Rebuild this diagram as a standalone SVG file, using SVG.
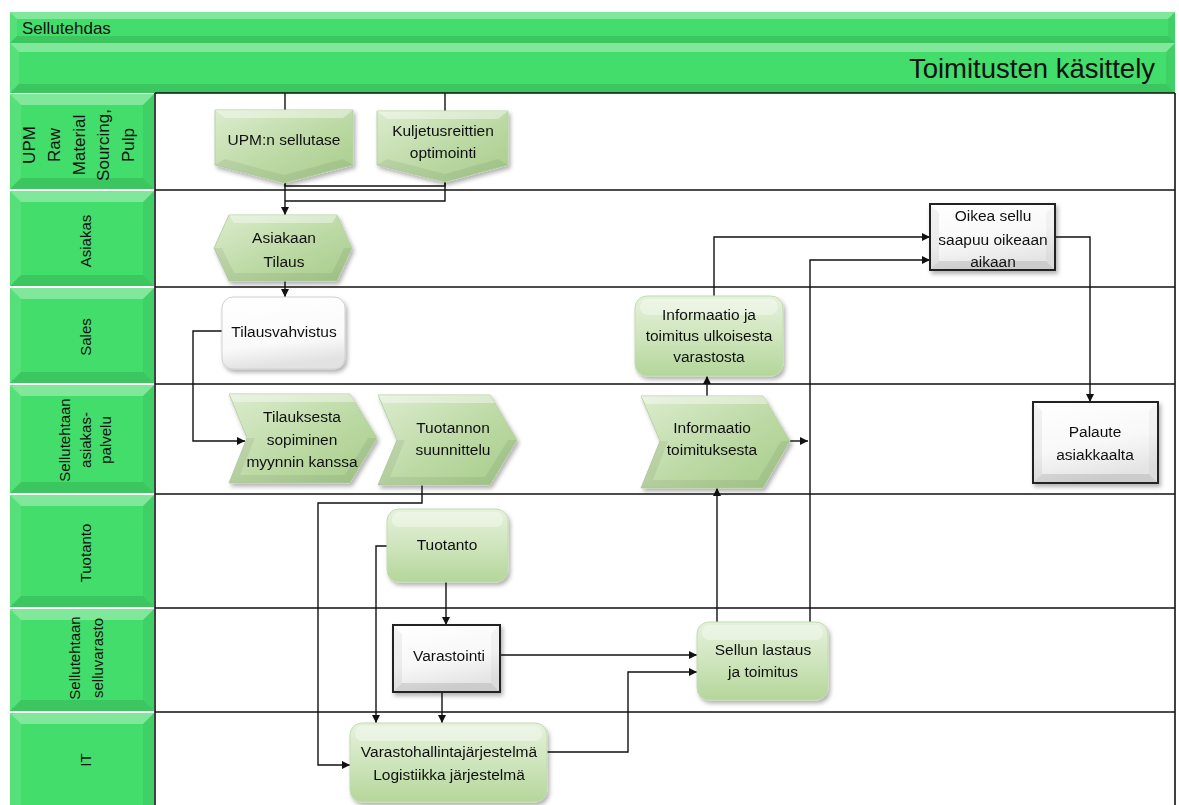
<svg xmlns="http://www.w3.org/2000/svg" width="1179" height="805" viewBox="0 0 1179 805">
<style>
.t{font-family:"Liberation Sans",Arial,sans-serif;font-size:15.5px;fill:#111;text-anchor:middle}
.lb{font-family:"Liberation Sans",Arial,sans-serif;font-size:15px;fill:#111;text-anchor:middle}
.cell{fill:#43dd6b}
.bt{fill:#ffffff;fill-opacity:.33}
.bl{fill:#ffffff;fill-opacity:.1}
.br{fill:#000000;fill-opacity:.05}
.bb{fill:#000000;fill-opacity:.1}
.grid{stroke:#111;stroke-width:1.6;fill:none}
.conn{stroke:#111;stroke-width:1.4;fill:none}
.ca{stroke:#111;stroke-width:1.4;fill:none;marker-end:url(#ah)}
.gn{fill:url(#gGreen);stroke:#b9d2a6;stroke-width:1}
.gr{fill:url(#gGreenR);stroke:#c2dbb0;stroke-width:1}
.wb{fill:url(#gWhite);stroke:#222;stroke-width:2}
.wl{fill:#000;fill-opacity:.05}
.wbo{fill:#000;fill-opacity:.1}
.wr{fill:#000;fill-opacity:.03}
</style>
<defs>
<marker id="ah" viewBox="0 0 10 10" refX="10" refY="5" markerWidth="9" markerHeight="8" markerUnits="userSpaceOnUse" orient="auto"><path d="M0,0 L10,5 L0,10 z" fill="#111"/></marker>
<linearGradient id="gGreen" x1="0" y1="0" x2="1" y2="1"><stop offset="0" stop-color="#dcecce"/><stop offset="0.55" stop-color="#bcd9a4"/><stop offset="1" stop-color="#a6cc8a"/></linearGradient>
<linearGradient id="gGreenR" x1="0" y1="0" x2="0" y2="1"><stop offset="0" stop-color="#e6f2dc"/><stop offset="0.5" stop-color="#cfe5bd"/><stop offset="1" stop-color="#b4d69a"/></linearGradient>
<linearGradient id="gWhite" x1="0" y1="0" x2="0.3" y2="1"><stop offset="0" stop-color="#ffffff"/><stop offset="0.6" stop-color="#f8f8f8"/><stop offset="1" stop-color="#e4e4e4"/></linearGradient>
<linearGradient id="gWhiteR" x1="0" y1="0" x2="0.2" y2="1"><stop offset="0" stop-color="#ffffff"/><stop offset="0.7" stop-color="#fafafa"/><stop offset="1" stop-color="#e2e2e2"/></linearGradient>
<filter id="sh" x="-10%" y="-10%" width="125%" height="130%"><feDropShadow dx="2" dy="3" stdDeviation="2" flood-color="#000" flood-opacity="0.3"/></filter>
</defs>
<rect x="0" y="0" width="1179" height="805" fill="#ffffff"/>

<g id="header">
<rect x="10" y="12" width="1165" height="31" class="cell"/>
<polygon class="bt" points="10,12 1175,12 1168,19 17,19"/>
<polygon class="bl" points="10,12 17,19 17,36 10,43"/>
<polygon class="br" points="1175,12 1175,43 1168,36 1168,19"/>
<polygon class="bb" points="10,43 17,36 1168,36 1175,43"/>
<rect x="10" y="43" width="1165" height="50" class="cell"/>
<polygon class="bt" points="10,43 1175,43 1166,52 19,52"/>
<polygon class="bl" points="10,43 19,52 19,84 10,93"/>
<polygon class="br" points="1175,43 1175,93 1166,84 1166,52"/>
<polygon class="bb" points="10,93 19,84 1166,84 1175,93"/>
<text x="22" y="34" font-family="Liberation Sans, Arial, sans-serif" font-size="17" fill="#111">Sellutehdas</text>
<text x="1155" y="78" font-family="Liberation Sans, Arial, sans-serif" font-size="27.5" fill="#111" text-anchor="end">Toimitusten käsittely</text>
</g>

<g id="lane-labels">
<rect x="10" y="94" width="144" height="95" class="cell"/>
<polygon class="bt" points="10,94 154,94 143,105 21,105"/>
<polygon class="bl" points="10,94 21,105 21,178 10,189"/>
<polygon class="br" points="154,94 154,189 143,178 143,105"/>
<polygon class="bb" points="10,189 21,178 143,178 154,189"/>
<rect x="10" y="191" width="144" height="95" class="cell"/>
<polygon class="bt" points="10,191 154,191 143,202 21,202"/>
<polygon class="bl" points="10,191 21,202 21,275 10,286"/>
<polygon class="br" points="154,191 154,286 143,275 143,202"/>
<polygon class="bb" points="10,286 21,275 143,275 154,286"/>
<rect x="10" y="288" width="144" height="95" class="cell"/>
<polygon class="bt" points="10,288 154,288 143,299 21,299"/>
<polygon class="bl" points="10,288 21,299 21,372 10,383"/>
<polygon class="br" points="154,288 154,383 143,372 143,299"/>
<polygon class="bb" points="10,383 21,372 143,372 154,383"/>
<rect x="10" y="385" width="144" height="108" class="cell"/>
<polygon class="bt" points="10,385 154,385 143,396 21,396"/>
<polygon class="bl" points="10,385 21,396 21,482 10,493"/>
<polygon class="br" points="154,385 154,493 143,482 143,396"/>
<polygon class="bb" points="10,493 21,482 143,482 154,493"/>
<rect x="10" y="495" width="144" height="112" class="cell"/>
<polygon class="bt" points="10,495 154,495 143,506 21,506"/>
<polygon class="bl" points="10,495 21,506 21,596 10,607"/>
<polygon class="br" points="154,495 154,607 143,596 143,506"/>
<polygon class="bb" points="10,607 21,596 143,596 154,607"/>
<rect x="10" y="609" width="144" height="102" class="cell"/>
<polygon class="bt" points="10,609 154,609 143,620 21,620"/>
<polygon class="bl" points="10,609 21,620 21,700 10,711"/>
<polygon class="br" points="154,609 154,711 143,700 143,620"/>
<polygon class="bb" points="10,711 21,700 143,700 154,711"/>
<rect x="10" y="713" width="144" height="100" class="cell"/>
<polygon class="bt" points="10,713 154,713 143,724 21,724"/>
<polygon class="bl" points="10,713 21,724 21,813 10,813"/>
<polygon class="br" points="154,713 154,813 143,813 143,724"/>

<g font-family="Liberation Sans, Arial, sans-serif" font-size="17" fill="#111" text-anchor="middle">
<text transform="translate(35,145) rotate(-90)">UPM</text>
<text transform="translate(60,145) rotate(-90)">Raw</text>
<text transform="translate(85,145) rotate(-90)">Material</text>
<text transform="translate(109,145) rotate(-90)">Sourcing,</text>
<text transform="translate(134,145) rotate(-90)">Pulp</text>
</g>
<text class="lb" transform="translate(91,241) rotate(-90)">Asiakas</text>
<text class="lb" transform="translate(91,337) rotate(-90)">Sales</text>
<text class="lb" transform="translate(70,440) rotate(-90)">Sellutehtaan</text>
<text class="lb" transform="translate(91,440) rotate(-90)">asiakas-</text>
<text class="lb" transform="translate(111,440) rotate(-90)">palvelu</text>
<text class="lb" transform="translate(91,553) rotate(-90)">Tuotanto</text>
<text class="lb" transform="translate(80,658) rotate(-90)">Sellutehtaan</text>
<text class="lb" transform="translate(103,658) rotate(-90)">selluvarasto</text>
<text class="lb" transform="translate(91,760) rotate(-90)">IT</text>
</g>

<g id="grid">
<line class="grid" x1="155" y1="93" x2="1175" y2="93"/>
<line class="grid" x1="155" y1="190" x2="1175" y2="190"/>
<line class="grid" x1="155" y1="287" x2="1175" y2="287"/>
<line class="grid" x1="155" y1="384" x2="1175" y2="384"/>
<line class="grid" x1="155" y1="494" x2="1175" y2="494"/>
<line class="grid" x1="155" y1="608" x2="1175" y2="608"/>
<line class="grid" x1="155" y1="712" x2="1175" y2="712"/>
<line class="grid" x1="155" y1="93" x2="155" y2="805"/>
<line class="grid" x1="1175" y1="93" x2="1175" y2="805"/>
</g>

<g id="connectors">
<line class="conn" x1="285" y1="93" x2="285" y2="110"/>
<line class="conn" x1="445" y1="93" x2="445" y2="111"/>
<path class="conn" d="M285,183 V186 H445 V182"/>
<path class="conn" d="M445,182 V201 H285"/>
<path class="ca" d="M285,183 V215"/>
<path class="ca" d="M285,281 V297"/>
<path class="ca" d="M222,331 H193 V441 H245"/>
<path class="ca" d="M422,485 V503 H318 V765 H350"/>
<path class="ca" d="M387,546 H376 V723"/>
<path class="ca" d="M446,582 V625"/>
<path class="ca" d="M442,692 V723"/>
<path class="ca" d="M500,655 H697"/>
<path class="ca" d="M547,752 H628 V672 H697"/>
<path class="ca" d="M717,622 V488"/>
<path class="ca" d="M810,622 V260 H930"/>
<path class="ca" d="M790,441 H808"/>
<path class="ca" d="M707,396 V376"/>
<path class="ca" d="M714,297 V237 H930"/>
<path class="ca" d="M1055,237 H1090 V402"/>
</g>

<g id="n-upm-sellutase" filter="url(#sh)">
<polygon class="gn" points="215,110 353,110 353,165 284,183 215,165"/>
<polygon fill="#fff" fill-opacity=".4" points="215,110 353,110 343,118 225,118"/>
<polygon fill="#000" fill-opacity=".06" points="215,165 284,183 353,165 343,159 284,175 225,159"/>
<text class="t" x="284" y="145">UPM:n sellutase</text>
</g>

<g id="n-kuljetus" filter="url(#sh)">
<polygon class="gn" points="377,111 508,111 508,165 445,182 377,165"/>
<polygon fill="#fff" fill-opacity=".4" points="377,111 508,111 498,119 387,119"/>
<polygon fill="#000" fill-opacity=".06" points="377,165 445,182 508,165 498,159 445,174 387,159"/>
<text class="t" x="443" y="136">Kuljetusreittien</text>
<text class="t" x="443" y="158">optimointi</text>
</g>

<g id="n-asiakaan-tilaus" filter="url(#sh)">
<polygon class="gn" points="229,215 337,215 352,248 337,281 229,281 214,248"/>
<polygon fill="#fff" fill-opacity=".4" points="229,215 337,215 332,223 234,223"/>
<polygon fill="#000" fill-opacity=".06" points="214,248 229,281 337,281 352,248 344,248 332,273 234,273 222,248"/>
<text class="t" x="284" y="243">Asiakaan</text>
<text class="t" x="284" y="267">Tilaus</text>
</g>

<g id="n-tilausvahvistus" filter="url(#sh)">
<rect x="222" y="297" width="123" height="72" rx="11" fill="url(#gWhiteR)" stroke="#d0d0d0" stroke-width="1"/>
<text class="t" x="284" y="337">Tilausvahvistus</text>
</g>

<g id="n-tilauksesta" filter="url(#sh)">
<polygon class="gn" points="229,394 350,394 377,438 350,483 229,483 247,438"/>
<polygon fill="#fff" fill-opacity=".4" points="229,394 350,394 355,402 234,402"/>
<polygon fill="#000" fill-opacity=".06" points="247,438 229,483 350,483 377,438 368,438 345,475 240,475 255,438"/>
<text class="t" x="302" y="422">Tilauksesta</text>
<text class="t" x="302" y="445">sopiminen</text>
<text class="t" x="302" y="467">myynnin kanssa</text>
</g>

<g id="n-tuotannon-suunnittelu" filter="url(#sh)">
<polygon class="gn" points="378,395 490,395 517,440 490,485 378,485 397,440"/>
<polygon fill="#fff" fill-opacity=".4" points="378,395 490,395 495,403 383,403"/>
<polygon fill="#000" fill-opacity=".06" points="397,440 378,485 490,485 517,440 508,440 485,477 390,477 405,440"/>
<text class="t" x="453" y="433">Tuotannon</text>
<text class="t" x="453" y="455">suunnittelu</text>
</g>

<g id="n-info-ulkoinen" filter="url(#sh)">
<rect class="gr" x="635" y="296" width="148" height="80" rx="12"/>
<rect x="640" y="299" width="138" height="16" rx="8" fill="#fff" fill-opacity=".35"/>
<text class="t" x="709" y="320">Informaatio ja</text>
<text class="t" x="709" y="341">toimitus ulkoisesta</text>
<text class="t" x="709" y="362">varastosta</text>
</g>

<g id="n-info-toimituksesta" filter="url(#sh)">
<polygon class="gn" points="641,396 763,396 790,441 763,488 641,488 660,441"/>
<polygon fill="#fff" fill-opacity=".4" points="641,396 763,396 768,404 646,404"/>
<polygon fill="#000" fill-opacity=".06" points="660,441 641,488 763,488 790,441 781,441 758,480 653,480 668,441"/>
<text class="t" x="712" y="433">Informaatio</text>
<text class="t" x="712" y="455">toimituksesta</text>
</g>

<g id="n-oikea-sellu" filter="url(#sh)">
<rect class="wb" x="930" y="204" width="125" height="66"/>
<polygon class="wl" points="931,205 939,213 939,261 931,269"/>
<polygon class="wbo" points="931,269 939,261 1046,261 1054,269"/>
<polygon class="wr" points="1054,205 1054,269 1046,261 1046,213"/>
<text class="t" x="993" y="221">Oikea sellu</text>
<text class="t" x="993" y="245">saapuu oikeaan</text>
<text class="t" x="993" y="267">aikaan</text>
</g>

<g id="n-palaute" filter="url(#sh)">
<rect class="wb" x="1033" y="402" width="125" height="81"/>
<polygon class="wl" points="1034,403 1042,411 1042,474 1034,482"/>
<polygon class="wbo" points="1034,482 1042,474 1149,474 1157,482"/>
<polygon class="wr" points="1157,403 1157,482 1149,474 1149,411"/>
<text class="t" x="1095" y="437">Palaute</text>
<text class="t" x="1095" y="460">asiakkaalta</text>
</g>

<g id="n-tuotanto" filter="url(#sh)">
<rect class="gr" x="387" y="509" width="121" height="73" rx="12"/>
<rect x="392" y="512" width="111" height="15" rx="7" fill="#fff" fill-opacity=".35"/>
<text class="t" x="447" y="550">Tuotanto</text>
</g>

<g id="n-varastointi" filter="url(#sh)">
<rect class="wb" x="393" y="625" width="107" height="67"/>
<polygon class="wl" points="394,626 402,634 402,683 394,691"/>
<polygon class="wbo" points="394,691 402,683 491,683 499,691"/>
<polygon class="wr" points="499,626 499,691 491,683 491,634"/>
<text class="t" x="449" y="661">Varastointi</text>
</g>

<g id="n-sellun-lastaus" filter="url(#sh)">
<rect class="gr" x="697" y="622" width="131" height="78" rx="12"/>
<rect x="702" y="625" width="121" height="15" rx="7" fill="#fff" fill-opacity=".35"/>
<text class="t" x="763" y="655">Sellun lastaus</text>
<text class="t" x="763" y="677">ja toimitus</text>
</g>

<g id="n-varastohallinta" filter="url(#sh)">
<rect class="gr" x="350" y="723" width="197" height="79" rx="12"/>
<rect x="355" y="726" width="187" height="15" rx="7" fill="#fff" fill-opacity=".35"/>
<text class="t" x="449" y="757">Varastohallintajärjestelmä</text>
<text class="t" x="449" y="780">Logistiikka järjestelmä</text>
</g>
</svg>
